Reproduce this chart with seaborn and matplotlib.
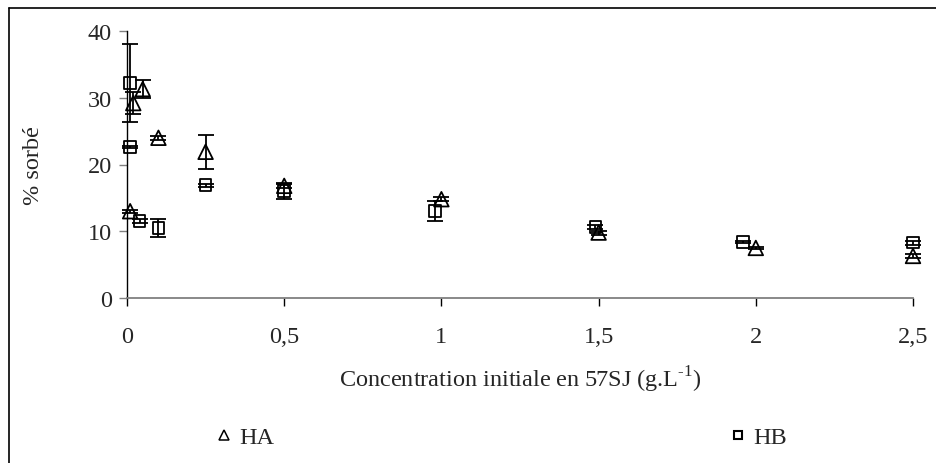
import numpy as np
import pandas as pd
import matplotlib
matplotlib.use("Agg")
import matplotlib.pyplot as plt
from matplotlib.lines import Line2D
import seaborn as sns

# ---- data ----
ha_x = [0.01, 0.02, 0.05, 0.10, 0.25, 0.50, 1.00, 1.50, 2.00, 2.50]
ha_y = [13.0, 29.2, 31.3, 24.0, 21.9, 16.8, 14.8, 9.8, 7.5, 6.3]
ha_err = [0.2, 1.6, 1.3, 0.3, 2.5, 0.3, 0.3, 0.3, 0.2, 0.3]

hb_x = [0.01, 0.01, 0.04, 0.10, 0.25, 0.50, 0.98, 1.49, 1.96, 2.50]
hb_y = [32.2, 22.6, 11.5, 10.5, 16.9, 16.0, 13.0, 10.6, 8.4, 8.3]
hb_err = [5.9, 0.2, 0.3, 1.3, 0.2, 1.2, 1.5, 0.3, 0.2, 0.3]

x_ticks = [0, 0.5, 1, 1.5, 2, 2.5]
x_tick_labels = ["0", "0,5", "1", "1,5", "2", "2,5"]
y_ticks = [0, 10, 20, 30, 40]

df = pd.DataFrame({
    "x": ha_x + hb_x,
    "y": ha_y + hb_y,
    "serie": ["HA"] * len(ha_x) + ["HB"] * len(hb_x),
})

sns.set_theme(style="ticks")
plt.rcParams["font.family"] = ["Liberation Serif", "DejaVu Serif"]
plt.rcParams["axes.unicode_minus"] = False
FS = 17.5

fig = plt.figure(figsize=(9.37, 4.64), dpi=100)
ax = fig.add_axes([127 / 937, 1 - 299 / 464, (913 - 127) / 937, (299 - 32) / 464])

lw = 1.3
for xs, ys, es in [(ha_x, ha_y, ha_err), (hb_x, hb_y, hb_err)]:
    eb = ax.errorbar(xs, ys, yerr=es, fmt="none", ecolor="black",
                     elinewidth=lw, capsize=6, capthick=lw, zorder=2)
    for art in eb.lines[1] + eb.lines[2]:
        art.set_clip_on(False)

sns.scatterplot(data=df[df.serie == "HA"], x="x", y="y", marker="^",
                s=110, color="black", linewidth=lw, ax=ax, legend=False, zorder=3)
sns.scatterplot(data=df[df.serie == "HB"], x="x", y="y", marker="s",
                s=70, color="black", linewidth=lw, ax=ax, legend=False, zorder=3)
for coll in ax.collections[-2:]:
    coll.set_facecolor("none")
    coll.set_edgecolor("black")
    coll.set_clip_on(False)

ax.set_xlim(0, 2.5)
ax.set_ylim(0, 40)
ax.set_xticks(x_ticks)
ax.set_xticklabels(x_tick_labels)
ax.set_yticks(y_ticks)
ax.tick_params(axis="both", labelsize=FS, direction="out", length=6, width=1)
ax.tick_params(axis="y", color="#808080", pad=5)
ax.tick_params(axis="x", color="black", pad=14)
for s in ["top", "right"]:
    ax.spines[s].set_visible(False)
ax.spines["left"].set_color("black")
ax.spines["bottom"].set_color("#808080")
ax.spines["left"].set_linewidth(1)
ax.spines["bottom"].set_linewidth(1.3)

ax.set_xlabel("Concentration initiale en 57SJ (g.L$^{\\mathregular{\u2010 1}}$)",
              fontsize=FS, labelpad=12)
ax.set_ylabel("% sorbé", fontsize=FS)
ax.yaxis.set_label_coords(-0.106, 0.5)

handles = [
    Line2D([], [], marker="^", linestyle="none", markerfacecolor="none",
           markeredgecolor="black", markersize=7, markeredgewidth=1.1),
    Line2D([], [], marker="s", linestyle="none", markerfacecolor="none",
           markeredgecolor="black", markersize=6, markeredgewidth=1.5),
]
fig.legend(handles, ["HA", "HB"], loc="center", bbox_to_anchor=(0.533, 1 - 438 / 464),
           ncol=2, frameon=False, fontsize=FS, handletextpad=0.1,
           columnspacing=18.6, handlelength=1.0)

# outer frame lines (left and top)
fig.add_artist(Line2D([9 / 937, 9 / 937], [0, 1 - 9 / 464], transform=fig.transFigure,
                      color="black", linewidth=1.2))
fig.add_artist(Line2D([9 / 937, 1], [1 - 9 / 464, 1 - 9 / 464], transform=fig.transFigure,
                      color="black", linewidth=1.2))

fig.savefig("out.png", dpi=100)
